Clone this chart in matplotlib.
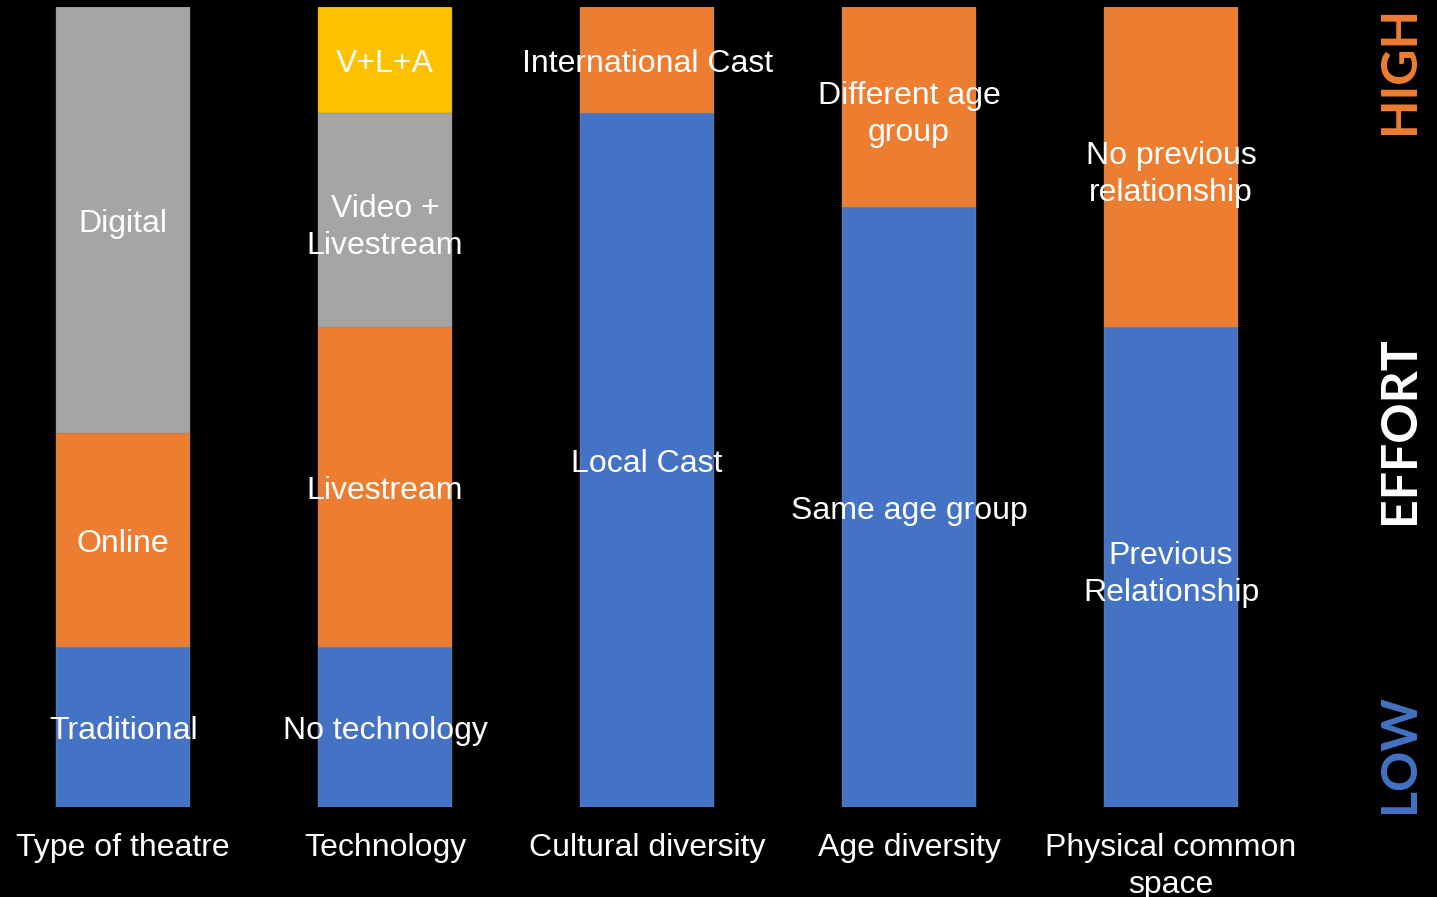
import matplotlib.pyplot as plt

categories = ['Type of theatre', 'Technology', 'Cultural diversity', 'Age diversity', 'Physical common\nspace']

# each bar: list of (label, value, colour key) from bottom to top, values in % of effort scale
segments = [
    [('Traditional', 20.0, 'blue'), ('Online', 26.7, 'orange'), ('Digital', 53.3, 'gray')],
    [('No technology', 20.0, 'blue'), ('Livestream', 40.0, 'orange'),
     ('Video +\nLivestream', 26.7, 'gray'), ('V+L+A', 13.3, 'yellow')],
    [('Local Cast', 86.7, 'blue'), ('International Cast', 13.3, 'orange')],
    [('Same age group', 75.0, 'blue'), ('Different age\ngroup', 25.0, 'orange')],
    [('Previous\nRelationship', 60.0, 'blue'), ('No previous\nrelationship', 40.0, 'orange')],
]

colors = {'blue': '#4472C4', 'orange': '#ED7D31', 'gray': '#A5A5A5', 'yellow': '#FFC000'}

plt.rcParams['font.family'] = ['Liberation Sans', 'DejaVu Sans']

fig = plt.figure(figsize=(14.37, 8.97), dpi=100, facecolor='black')
ax = fig.add_axes([0.0, 0.1003, 1302 / 1437, 0.8918])
ax.set_facecolor('black')

for i, bar in enumerate(segments):
    bottom = 0
    for label, val, c in bar:
        ax.bar(i, val, bottom=bottom, width=0.51, color=colors[c], edgecolor='#8a8a8a', linewidth=0.3)
        ax.text(i, bottom + val / 2, label, ha='center', va='center_baseline', color='white',
                fontsize=23, linespacing=1.33)
        bottom += val

ax.set_xlim(-0.47, 4.5)
ax.set_ylim(0, 100)
ax.set_xticks(range(len(categories)))
ax.set_xticklabels(categories, color='white', fontsize=23, linespacing=1.3, va='top')
ax.tick_params(axis='x', length=0, pad=19)
ax.set_yticks([])
for s in ax.spines.values():
    s.set_visible(False)

side = [('HIGH', '#ED7D31', 0.922), ('EFFORT', 'white', 0.5206), ('LOW', '#4472C4', 0.16)]
for txt, c, y in side:
    fig.text(1399 / 1437, y, txt, rotation=90, ha='center', va='center', color=c,
             fontsize=36, fontweight='bold', family='Lato')

fig.savefig('out.png', dpi=100, facecolor='black')
